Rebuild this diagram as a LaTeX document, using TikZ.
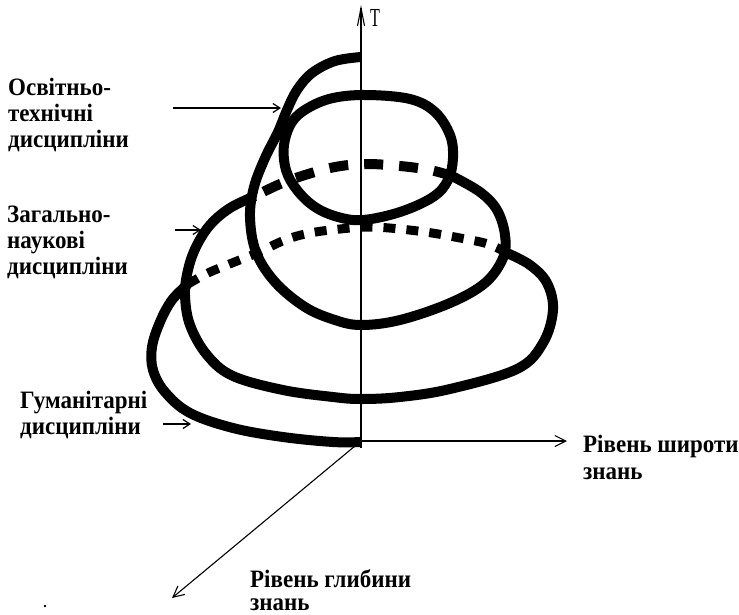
\documentclass[tikz,border=0pt]{standalone}
\usepackage{fontspec}
\setmainfont{Liberation Serif}
\usetikzlibrary{arrows.meta}
\begin{document}
\begin{tikzpicture}[x=1pt,y=-1pt,
  loopline/.style={line width=10pt, black},
  dashA/.style={line width=10pt, dash pattern=on 19pt off 16pt},
  dashB/.style={line width=9pt, dash pattern=on 12pt off 11pt},
  axis/.style={line width=1.1pt},
  lbl/.style={font=\fontsize{25}{26}\selectfont\bfseries, xscale=0.92, align=left, anchor=north west, inner sep=0pt},
  ptr/.style={line width=1.2pt, -{Straight Barb[length=7pt,width=9pt]}}
]
\useasboundingbox (0,0) rectangle (739,614);

% axes
\coordinate (Obelow) at (361,448);
\coordinate (O) at (361,441);
\coordinate (Ttop) at (361,5);
\coordinate (Xend) at (567,441);
\coordinate (Yend) at (172,598);
\draw[axis,-{Straight Barb[length=18pt,width=7pt]}] (Obelow) -- (Ttop);
\draw[axis,-{Straight Barb[length=11pt,width=11pt]}] (O) -- (Xend);
\draw[axis,-{Straight Barb[length=11pt,width=11pt]}] (O) -- (Yend);
\node[font=\fontsize{26}{26}\selectfont, xscale=0.62, anchor=north west, inner sep=0pt] (T) at (370,9) {T};

% small loop
\draw[loopline] plot[smooth cycle, tension=0.6] coordinates {
 (367,95) (333,98) (308,108) (292,122) (284,145) (286,170) (297,190) (315,207) (338,217) (363,220)
 (400,212) (433,197) (448,180) (453,158) (450,135) (435,112) (410,99)};

% loop A
\draw[loopline] plot[smooth, tension=0.6] coordinates {
 (361,57) (335,61) (312,73) (297,90) (287,110) (278,132) (265,158) (254,187) (250,217) (256,252)
 (275,282) (305,307) (335,320) (361,325) (400,320) (450,303) (485,283) (503,258) (505,235)
 (497,210) (480,192) (452,176)};
\draw[dashA] plot[smooth, tension=0.6] coordinates {
 (452,176) (430,170) (400,166) (365,164) (335,167) (305,175) (280,184) (255,196)};

% loop B
\draw[loopline] plot[smooth, tension=0.6] coordinates {
 (255,196) (230,208) (210,225) (196,247) (188,270) (185,295) (190,325) (207,355) (233,376)
 (283,390) (333,397) (361,399) (400,397) (450,389) (517,369) (543,343) (553,310) (547,283)
 (530,265) (507,253)};
\draw[dashB] plot[smooth, tension=0.6] coordinates {
 (507,253) (488,244) (460,238) (432,233) (400,229) (370,227) (340,229) (310,233) (285,240)
 (257,253) (232,263) (208,273) (188,284)};

% loop C
\draw[loopline] plot[smooth, tension=0.6] coordinates {
 (188,284) (172,300) (160,322) (152,347) (153,370) (165,392) (190,413) (233,428) (283,437)
 (333,442) (361,442)};

% labels
\node[lbl] (L1) at (8,78) {Освітньо-\\технічні\\дисципліни};
\node[lbl] (L2) at (7,206) {Загально-\\наукові\\дисципліни};
\node[lbl] (L3) at (20,391) {Гуманітарні\\дисципліни};
\node[lbl, font=\fontsize{25}{27}\selectfont\bfseries] (L4) at (583,435) {Рівень широти\\знань};
\node[lbl, font=\fontsize{25}{23}\selectfont\bfseries] (L5) at (250,569) {Рівень глибини\\знань};

\coordinate (p1s) at (173,108); \coordinate (p1e) at (281,108);
\coordinate (p2s) at (175,230); \coordinate (p2e) at (201,230);
\coordinate (p3s) at (163,424); \coordinate (p3e) at (191,424);
\draw[ptr] (p1s) -- (p1e);
\draw[ptr] (p2s) -- (p2e);
\draw[ptr] (p3s) -- (p3e);

\fill (45,606) circle (1.3pt);
\end{tikzpicture}
\end{document}
